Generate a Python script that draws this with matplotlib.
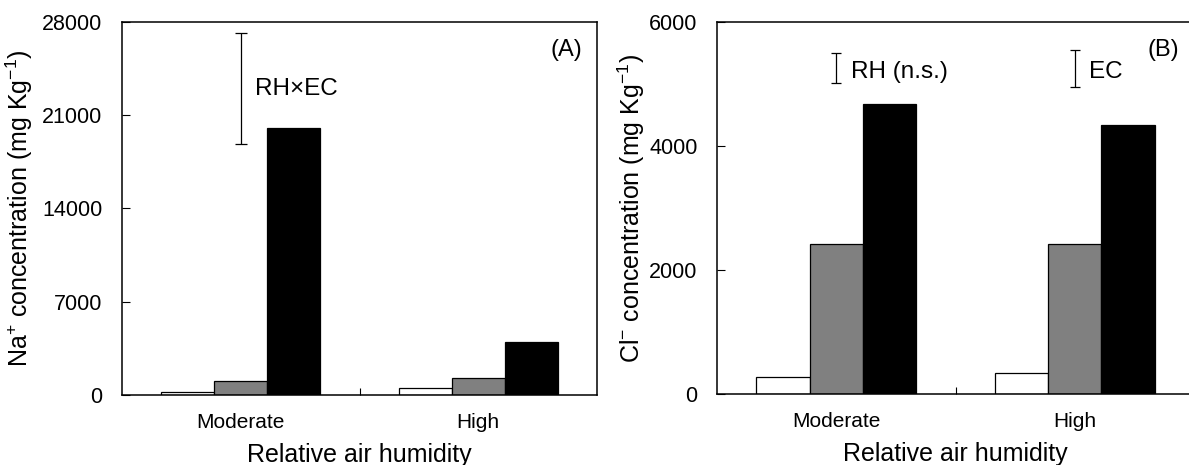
import numpy as np
import matplotlib
matplotlib.use('Agg')
import matplotlib.pyplot as plt

plt.rcParams['font.family'] = ['Liberation Sans', 'DejaVu Sans']
plt.rcParams['mathtext.fontset'] = 'custom'
plt.rcParams['mathtext.rm'] = 'Liberation Sans'
plt.rcParams['mathtext.it'] = 'Liberation Sans'

groups = ['Moderate', 'High']
colors = ['white', '#808080', 'black']

# Na+ (panel A)
na_white = [200, 550]
na_gray = [1075, 1300]
na_black = [20050, 3950]
na_bar_center = 23000
na_bar_half = 4190

# Cl- (panel B)
cl_white = [280, 333]
cl_gray = [2415, 2426]
cl_black = [4675, 4337]
cl_bar_center = [5257, 5257]
cl_bar_half = [245, 298]
cl_bar_labels = ['RH (n.s.)', 'EC']

fig = plt.figure(figsize=(11.89, 4.65), dpi=100)
ax1 = fig.add_axes([122 / 1189, 70 / 465, 475 / 1189, 373 / 465])
ax2 = fig.add_axes([717 / 1189, 71 / 465, 477 / 1189, 372 / 465])

x = np.arange(len(groups))
w = 0.223


def draw(ax, series, yticks, ylabel, tag):
    for i, vals in enumerate(series):
        ax.bar(x + (i - 1) * w, vals, w, color=colors[i], edgecolor='black', linewidth=0.9)
    ax.set_xlim(-0.5, 1.5)
    ax.set_ylim(yticks[0], yticks[-1])
    ax.set_yticks(yticks)
    ax.set_xticks([0.5])
    ax.set_xticklabels([])
    ax.set_xticks(x, minor=True)
    ax.set_xticklabels(groups, minor=True)
    ax.tick_params(axis='x', which='minor', length=0, pad=13, labelsize=15)
    ax.tick_params(axis='x', which='major', direction='in', length=5, width=0.8)
    ax.tick_params(axis='y', direction='in', length=6, width=0.8, pad=14, labelsize=15.5)
    for s in ax.spines.values():
        s.set_linewidth(1.1)
    ax.set_xlabel('Relative air humidity', fontsize=18, labelpad=8)
    ax.set_ylabel(ylabel, fontsize=18)
    ax.text(1 - 15 / 475, 0.925, tag, transform=ax.transAxes, ha='right', va='center', fontsize=17)


draw(ax1, [na_white, na_gray, na_black], [0, 7000, 14000, 21000, 28000],
     r'Na$^{+}$ concentration (mg Kg$^{-1}$)', '(A)')
ax1.yaxis.set_label_coords(-0.183, 0.5)
ax1.errorbar([0], [na_bar_center], yerr=[na_bar_half], fmt='none', ecolor='black',
             elinewidth=0.9, capsize=4, capthick=0.9)
ax1.text(0.06, na_bar_center, 'RH×EC', ha='left', va='center', fontsize=17.5)

draw(ax2, [cl_white, cl_gray, cl_black], [0, 2000, 4000, 6000],
     r'Cl$^{-}$ concentration (mg Kg$^{-1}$)', '(B)')
ax2.yaxis.set_label_coords(-0.147, 0.5)
ax2.errorbar(x, cl_bar_center, yerr=cl_bar_half, fmt='none', ecolor='black',
             elinewidth=0.9, capsize=3.5, capthick=0.9)
for xi, c, lab in zip(x, cl_bar_center, cl_bar_labels):
    ax2.text(xi + 0.06, c - 60, lab, ha='left', va='center', fontsize=17.5)

fig.savefig('out.png', dpi=100)
